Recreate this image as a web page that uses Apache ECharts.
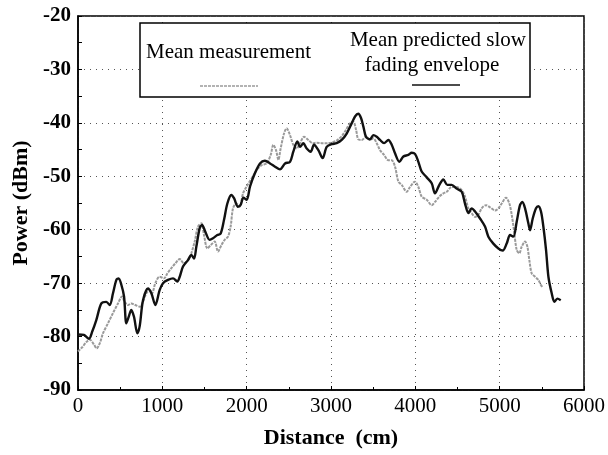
<!DOCTYPE html>
<html>
<head>
<meta charset="utf-8">
<script src="https://cdn.jsdelivr.net/npm/echarts@6/dist/echarts.min.js"></script>
<style>html,body{margin:0;padding:0;background:#fff}#c{width:608px;height:455px}</style>
</head>
<body>
<div id="c"></div>
<script>
const xTicks = [0, 1000, 2000, 3000, 4000, 5000, 6000];
const yTicks = [-90, -80, -70, -60, -50, -40, -30, -20];
const legendNames = ['Mean measurement', 'Mean predicted slow fading envelope'];

const measDistance = [0,50,100,142,190,222,260,296,356,415,474,522,553,593,632,680,731,771,810,850,878,917,968,1020,1059,1107,1154,1206,1257,1304,1344,1384,1423,1463,1494,1534,1573,1621,1660,1700,1739,1779,1810,1838,1878,1917,1957,2000,2059,2119,2178,2237,2285,2316,2348,2376,2403,2443,2474,2514,2553,2593,2633,2680,2731,2783,2830,2889,2949,3008,3067,3127,3178,3225,3265,3297,3324,3364,3415,3463,3502,3542,3581,3629,3680,3720,3759,3799,3838,3898,3937,3996,4036,4075,4135,4194,4233,4285,4332,4372,4431,4490,4550,4589,4629,4668,4708,4747,4787,4838,4886,4945,4985,5024,5075,5115,5143,5170,5202,5233,5261,5301,5329,5352,5380,5420,5459,5487,5510];
const measPower = [-82.8,-82.0,-81.0,-80.6,-81.5,-82.2,-81.2,-79.4,-77.5,-75.6,-73.8,-72.5,-73.5,-74.1,-73.8,-74.1,-74.4,-73.5,-71.9,-71.3,-71.9,-70.0,-68.8,-69.1,-68.2,-67.2,-66.3,-65.5,-66.3,-65.7,-64.4,-62.2,-59.4,-58.8,-61.0,-63.5,-62.9,-62.2,-64.1,-62.9,-61.9,-61.3,-59.4,-56.0,-55.1,-55.7,-53.2,-51.9,-50.4,-48.8,-47.9,-47.6,-46.0,-44.1,-45.1,-46.9,-44.8,-42.0,-41.0,-42.3,-44.1,-44.8,-43.8,-42.6,-43.2,-43.8,-43.7,-43.8,-43.8,-43.7,-43.3,-42.5,-41.3,-40.1,-39.8,-41.3,-43.1,-43.2,-42.6,-43.2,-42.9,-43.8,-45.1,-46.0,-47.0,-47.0,-48.2,-51.0,-51.6,-52.9,-52.0,-51.0,-52.0,-53.8,-54.4,-55.4,-54.8,-53.8,-53.2,-52.9,-52.0,-52.0,-52.6,-53.8,-56.0,-56.9,-57.6,-57.2,-56.0,-55.4,-55.8,-56.4,-56.0,-55.1,-54.0,-55.1,-57.2,-60.1,-63.8,-64.4,-63.2,-62.2,-63.2,-65.7,-68.2,-68.8,-69.4,-70.3,-70.8];

const predDistance = [0,70,130,170,217,277,336,376,415,455,482,514,546,573,601,632,664,704,731,771,830,870,917,968,1008,1067,1127,1178,1206,1245,1304,1344,1376,1403,1443,1471,1510,1561,1601,1652,1692,1731,1771,1818,1850,1897,1930,1961,2000,2040,2099,2158,2217,2277,2336,2395,2455,2514,2553,2601,2633,2672,2712,2759,2799,2850,2901,2949,3008,3067,3127,3186,3245,3285,3324,3356,3384,3415,3463,3502,3542,3581,3629,3680,3720,3759,3811,3858,3917,3957,3996,4036,4075,4135,4194,4233,4285,4332,4380,4431,4490,4550,4589,4629,4668,4708,4767,4826,4866,4925,4985,5036,5083,5123,5162,5202,5241,5269,5301,5340,5360,5392,5431,5459,5490,5518,5550,5578,5617,5649,5684,5724];
const predPower = [-79.6,-79.7,-80.4,-79.0,-76.9,-73.8,-73.5,-74.1,-71.9,-69.4,-69.1,-70.3,-72.5,-77.5,-76.3,-75.0,-76.3,-79.4,-78.1,-73.2,-71.0,-71.9,-74.1,-71.3,-70.0,-69.4,-69.1,-69.7,-68.8,-66.9,-65.7,-64.7,-65.4,-63.2,-59.7,-59.1,-60.4,-61.9,-61.6,-61.0,-60.7,-58.2,-55.1,-53.5,-54.1,-55.7,-55.3,-54.0,-54.4,-51.9,-49.4,-47.6,-47.1,-47.6,-48.2,-48.7,-47.6,-47.3,-45.4,-43.5,-44.5,-43.8,-44.8,-45.4,-44.1,-45.1,-46.6,-44.5,-44.0,-43.8,-43.2,-42.0,-40.1,-38.8,-38.3,-39.1,-40.7,-42.6,-43.1,-42.3,-42.6,-43.2,-43.8,-43.2,-44.1,-45.7,-47.3,-46.3,-46.0,-45.6,-45.8,-47.3,-49.1,-50.2,-51.3,-53.2,-51.6,-50.6,-51.6,-51.6,-52.3,-52.9,-55.1,-56.9,-56.0,-56.6,-57.9,-59.4,-61.3,-62.6,-63.5,-63.9,-62.6,-61.0,-61.3,-58.5,-55.4,-54.8,-56.0,-58.8,-60.1,-57.9,-56.0,-55.6,-56.6,-59.4,-63.8,-68.8,-71.9,-73.5,-72.9,-73.2];

const serif = 'Liberation Serif';
const chart = echarts.init(document.getElementById('c'), null, {renderer: 'canvas'});
const pairs = (xs, ys) => xs.map((x, i) => [x, ys[i]]);

chart.setOption({
  animation: false,
  backgroundColor: '#fff',
  grid: {left: 78, right: 24, top: 16, bottom: 65, show: true, borderColor: '#000', borderWidth: 1.5, containLabel: false},
  xAxis: {
    type: 'value', min: xTicks[0], max: xTicks[xTicks.length - 1], interval: 1000,
    name: 'Distance  (cm)', nameLocation: 'middle', nameGap: 37,
    nameTextStyle: {fontFamily: serif, fontSize: 22, fontWeight: 'bold', color: '#000'},
    axisLine: {show: true, lineStyle: {color: '#000', width: 1.5}},
    axisTick: {show: true, inside: true, length: 4, lineStyle: {color: '#000'}},
    minorTick: {show: true, splitNumber: 2, length: 3, lineStyle: {color: '#000'}},
    axisLabel: {fontFamily: serif, fontSize: 21, color: '#000', margin: 6, formatter: v => String(v)},
    splitLine: {show: true, lineStyle: {type: [1, 5], color: '#555', width: 1}}
  },
  yAxis: {
    type: 'value', min: yTicks[0], max: yTicks[yTicks.length - 1], interval: 10,
    name: 'Power (dBm)', nameLocation: 'middle', nameGap: 44, nameRotate: 90,
    nameTextStyle: {fontFamily: serif, fontSize: 22, fontWeight: 'bold', color: '#000'},
    axisLine: {show: true, lineStyle: {color: '#000', width: 1.5}},
    axisTick: {show: true, inside: true, length: 4, lineStyle: {color: '#000'}},
    minorTick: {show: true, splitNumber: 2, length: 4, lineStyle: {color: '#000'}},
    axisLabel: {fontFamily: serif, fontSize: 21, fontWeight: 'bold', color: '#000', margin: 7, formatter: v => String(v)},
    splitLine: {show: true, lineStyle: {type: [1, 5], color: '#555', width: 1}}
  },
  series: [
    {name: legendNames[0], type: 'line', data: pairs(measDistance, measPower), showSymbol: false, smooth: 0.3,
     lineStyle: {color: '#9a9a9a', width: 2, type: [3, 1]}, z: 2},
    {name: legendNames[1], type: 'line', data: pairs(predDistance, predPower), showSymbol: false, smooth: 0.3,
     lineStyle: {color: '#111', width: 2.4}, z: 3}
  ],
  graphic: [
    {type: 'rect', shape: {x: 140, y: 23, width: 390, height: 74}, style: {fill: '#fff', stroke: '#000', lineWidth: 1.5}, z: 10},
    {type: 'text', x: 146, y: 52, style: {text: 'Mean measurement', font: '21px ' + serif, fill: '#000', textVerticalAlign: 'middle'}, z: 11},
    {type: 'text', x: 526, y: 40, style: {text: 'Mean predicted slow', font: '21px ' + serif, fill: '#000', textAlign: 'right', textVerticalAlign: 'middle'}, z: 11},
    {type: 'text', x: 432, y: 65, style: {text: 'fading envelope', font: '21px ' + serif, fill: '#000', textAlign: 'center', textVerticalAlign: 'middle'}, z: 11},
    {type: 'line', shape: {x1: 200, y1: 86, x2: 258, y2: 86}, style: {stroke: '#9a9a9a', lineWidth: 1.5, lineDash: [3, 1]}, z: 11},
    {type: 'line', shape: {x1: 412, y1: 85, x2: 460, y2: 85}, style: {stroke: '#111', lineWidth: 1.5}, z: 11}
  ]
});
</script>
</body>
</html>
